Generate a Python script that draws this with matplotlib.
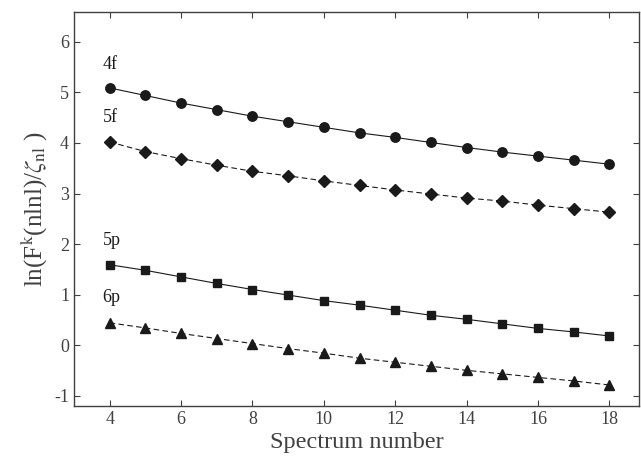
import numpy as np
import matplotlib
matplotlib.use("Agg")
import matplotlib.pyplot as plt

plt.rcParams['font.family'] = ['Liberation Serif', 'DejaVu Serif']
plt.rcParams['mathtext.fontset'] = 'stix'
plt.rcParams['axes.unicode_minus'] = False

# data
spectrum = np.arange(4, 19)
y_4f = [5.09, 4.94, 4.79, 4.66, 4.53, 4.42, 4.31, 4.20, 4.11, 4.01, 3.91, 3.82, 3.74, 3.66, 3.58]
y_5f = [4.02, 3.83, 3.69, 3.56, 3.44, 3.35, 3.25, 3.16, 3.07, 2.99, 2.91, 2.85, 2.77, 2.70, 2.63]
y_5p = [1.59, 1.48, 1.35, 1.22, 1.10, 0.99, 0.88, 0.79, 0.69, 0.59, 0.51, 0.42, 0.33, 0.26, 0.18]
y_6p = [0.44, 0.34, 0.23, 0.13, 0.03, -0.07, -0.16, -0.26, -0.34, -0.42, -0.50, -0.57, -0.64, -0.71, -0.79]
labels = ["4f", "5f", "5p", "6p"]
label_y = [5.55, 4.50, 2.07, 0.95]

fig = plt.figure(figsize=(6.41, 4.65), dpi=100)
ax = fig.add_axes([0.1154, 0.1275, 0.8816, 0.8475])

c = '#1a1a1a'
ax.plot(spectrum, y_4f, '-', color=c, lw=0.8, marker='o', ms=6.8)
ax.plot(spectrum, y_5f, '--', color=c, lw=0.8, marker='D', ms=5.8, dashes=(5, 3))
ax.plot(spectrum, y_5p, '-', color=c, lw=0.8, marker='s', ms=5.4)
ax.plot(spectrum, y_6p, '--', color=c, lw=0.8, marker='^', ms=7, dashes=(5, 3))

for lab, yy in zip(labels, label_y):
    ax.text(3.8, yy, lab, fontsize=13, va='center', ha='left', color=c)

ax.set_xlim(3, 18.83)
ax.set_ylim(-1.2, 6.6)
ax.set_xticks(np.arange(4, 19, 2))
ax.set_yticks(np.arange(-1, 7, 1))
ax.tick_params(direction='in', top=True, right=True, labelsize=13, colors='#404040',
               labelcolor='#404040', length=4)
for s in ax.spines.values():
    s.set_color('#404040')
    s.set_linewidth(1.0)

ax.set_xlabel("Spectrum number", fontsize=17.5, color='#404040', labelpad=3)
ax.set_ylabel(r"ln(F$^{\mathrm{k}}$(nlnl)/$\zeta_{\mathrm{nl}}$ )", fontsize=18, color='#404040')

fig.savefig("out.png", dpi=100)
